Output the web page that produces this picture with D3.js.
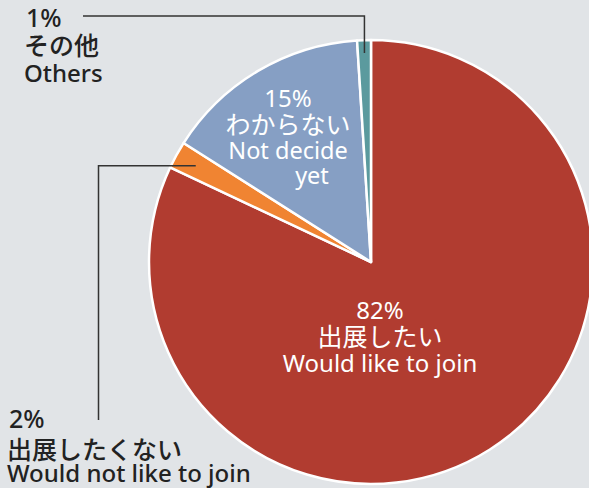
<!DOCTYPE html>
<html><head><meta charset="utf-8">
<script src="https://cdn.jsdelivr.net/npm/d3@7"></script>
<style>
html,body{margin:0;padding:0;background:#e1e4e7;}
svg{display:block;}
text{font-family:"Noto Sans","Noto Sans CJK JP",sans-serif;}
</style></head><body>
<svg id="c" width="589" height="488"></svg>
<script>
const categories = ["出展したい", "出展したくない", "わからない", "その他"];
const categoriesEn = ["Would like to join", "Would not like to join", "Not decide yet", "Others"];
const values = [82, 2, 15, 1];
const percentLabels = ["82%", "2%", "15%", "1%"];
const colors = ["#b13c30", "#f08432", "#869fc4", "#5b9a9e"];

const svg = d3.select("#c");
const W = 589, H = 488;
svg.append("rect").attr("width", W).attr("height", H).attr("fill", "#e1e4e7");

const cx = 371, cy = 262, R = 222;
const pie = d3.pie().sort(null).value(d => d)(values);
const arc = d3.arc().innerRadius(0).outerRadius(R);
const g = svg.append("g").attr("transform", `translate(${cx},${cy})`);
g.selectAll("path").data(pie).join("path")
  .attr("d", arc)
  .attr("fill", (d, i) => colors[i])
  .attr("stroke", "#fff").attr("stroke-width", 2.5).attr("stroke-linejoin", "round");

function pt(a, r) { return [cx + r * Math.sin(a), cy - r * Math.cos(a)]; }
const teal = pie[3], orange = pie[1];
const tp = pt((teal.startAngle + teal.endAngle) / 2, 209);
svg.append("path").attr("fill", "none").attr("stroke", "#333").attr("stroke-width", 1.5)
  .attr("d", `M${tp[0]},${tp[1]} V16 H83`);
const op = pt((orange.startAngle + orange.endAngle) / 2, 200);
svg.append("path").attr("fill", "none").attr("stroke", "#333").attr("stroke-width", 1.5)
  .attr("d", `M${op[0]},${op[1]} H98.5 V420`);

function label(lines, x, anchor, fill, w) {
  const t = svg.append("g");
  lines.forEach(l => {
    t.append("text").attr("x", l.x !== undefined ? l.x : x).attr("y", l.y)
      .attr("text-anchor", anchor).attr("fill", fill)
      .attr("font-size", l.size).attr("font-weight", w)
      .text(l.t);
  });
}
label([
  {t: percentLabels[3], y: 26.5, size: 25, x: 26},
  {t: categories[3], y: 55, size: 25},
  {t: categoriesEn[3], y: 81.5, size: 24}
], 24, "start", "#222", 500);
label([
  {t: percentLabels[1], y: 428, size: 25, x: 9},
  {t: categories[1], y: 459, size: 25},
  {t: categoriesEn[1], y: 482, size: 24}
], 7, "start", "#222", 500);
label([
  {t: percentLabels[2], y: 107, size: 24},
  {t: categories[2], y: 134, size: 25},
  {t: "Not decide", y: 159, size: 23.5},
  {t: "yet", y: 184, size: 23.5, x: 312}
], 288, "middle", "#fff", 400);
label([
  {t: percentLabels[0], y: 319, size: 24},
  {t: categories[0], y: 346, size: 25},
  {t: categoriesEn[0], y: 372, size: 24}
], 380, "middle", "#fff", 400);
</script></body></html>
